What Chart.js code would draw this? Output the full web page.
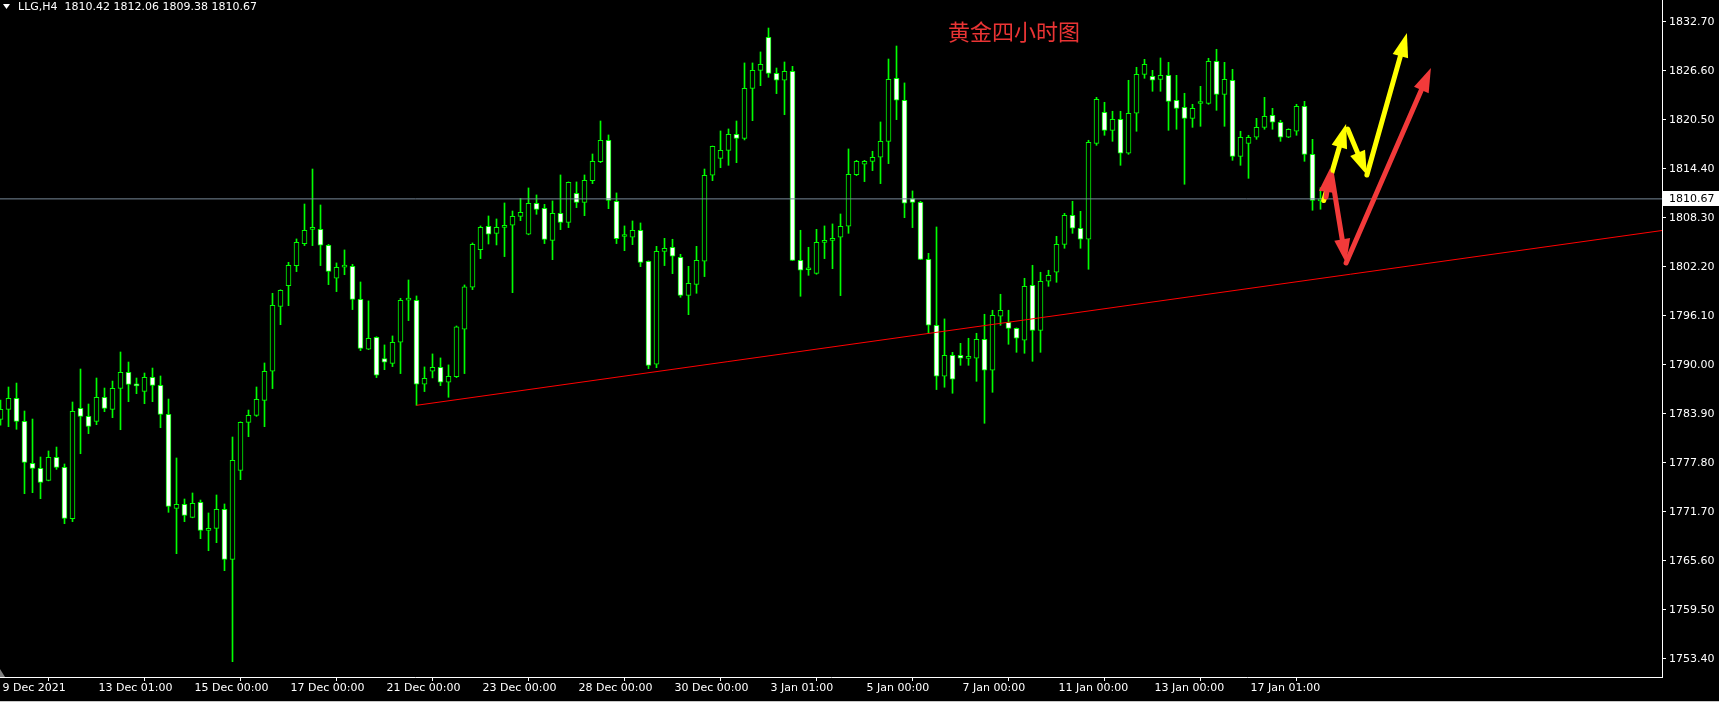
<!DOCTYPE html>
<html>
<head>
<meta charset="utf-8">
<script src="https://cdn.jsdelivr.net/npm/chart.js@4.4.0/dist/chart.umd.min.js"></script>
<style>
  html, body { margin: 0; padding: 0; background: #000; overflow: hidden; }
  canvas { display: block; }
</style>
</head>
<body>
<canvas id="c" width="1719" height="702"></canvas>
<script>
// LLG H4 candles (index 0 = first bar on the left)
const OPEN = [
  1783.21,1784.46,1785.83,1782.96,1777.73,1777.11,1775.61,1778.48,1777.23,1770.84,
  1784.58,1783.58,1782.96,1785.95,1784.46,1787.07,1789.06,1787.44,1786.70,1788.44,
  1787.44,1783.83,1772.13,1772.63,1771.01,1772.87,1769.39,1769.64,1772.00,1765.78,
  1776.86,1782.84,1783.71,1785.58,1789.20,1797.29,1799.87,1802.36,1805.10,1806.88,
  1806.88,1804.89,1800.78,1802.17,1802.27,1798.16,1791.94,1793.43,1790.77,1790.19,
  1792.81,1798.06,1798.04,1787.58,1789.20,1789.69,1787.83,1788.53,1794.43,1799.66,
  1804.35,1807.25,1806.38,1807.13,1807.38,1808.50,1806.26,1810.12,1809.50,1805.51,
  1808.87,1807.75,1811.36,1810.24,1812.94,1815.31,1817.96,1810.37,1805.98,1805.89,
  1806.76,1802.90,1790.07,1804.14,1804.64,1803.39,1798.66,1800.03,1802.90,1813.61,
  1815.72,1816.72,1818.71,1818.21,1824.44,1826.68,1830.79,1826.31,1825.44,1826.56,
  1803.02,1801.84,1801.40,1805.26,1805.51,1805.89,1807.26,1813.69,1814.98,1815.35,
  1815.85,1817.84,1825.69,1822.95,1810.70,1810.24,1803.14,1794.93,1788.58,1791.19,
  1791.19,1790.80,1790.82,1793.18,1789.32,1796.05,1795.30,1794.55,1793.06,1799.91,
  1794.30,1800.41,1801.53,1805.01,1808.62,1807.01,1805.64,1817.59,1821.45,1819.21,
  1820.58,1816.35,1821.33,1826.18,1825.94,1825.56,1826.06,1822.95,1822.07,1820.70,
  1822.55,1822.57,1827.80,1823.69,1825.44,1815.97,1817.59,1818.34,1819.58,1821.08,
  1820.21,1818.34,1819.09,1822.20,1816.22,1810.42
];
const HIGH = [
  1785.62,1787.24,1787.73,1784.25,1783.25,1778.52,1779.27,1779.76,1777.65,1785.37,
  1789.48,1785.12,1788.36,1787.11,1787.98,1791.60,1790.35,1788.36,1788.98,1789.60,
  1788.61,1785.74,1778.40,1773.29,1774.04,1773.16,1771.55,1773.79,1772.67,1781.01,
  1782.90,1784.37,1787.24,1790.23,1798.91,1799.35,1802.77,1805.68,1810.03,1814.39,
  1809.91,1805.00,1802.69,1804.31,1802.52,1800.32,1797.96,1793.50,1792.48,1793.60,
  1798.29,1800.57,1798.58,1789.74,1791.36,1790.86,1789.99,1794.84,1799.95,1805.18,
  1807.30,1808.54,1808.17,1810.16,1809.16,1810.74,1812.03,1811.16,1809.99,1810.41,
  1813.65,1812.78,1812.78,1813.65,1816.26,1820.37,1818.63,1811.41,1807.30,1807.92,
  1807.67,1802.95,1804.76,1805.76,1805.64,1803.77,1802.27,1804.76,1814.39,1817.25,
  1819.13,1819.38,1820.37,1827.60,1827.60,1828.97,1831.95,1826.97,1827.72,1827.18,
  1806.76,1804.64,1806.88,1807.30,1807.55,1808.79,1816.89,1815.47,1815.47,1816.60,
  1820.25,1828.09,1829.71,1825.11,1811.66,1810.37,1803.89,1807.17,1795.72,1791.56,
  1792.68,1793.31,1793.93,1796.30,1796.80,1798.79,1796.80,1794.60,1800.78,1802.40,
  1801.53,1801.78,1806.01,1808.87,1810.37,1809.12,1817.97,1823.32,1822.70,1821.58,
  1821.58,1825.44,1827.06,1828.05,1826.68,1828.22,1827.68,1826.06,1823.82,1822.45,
  1824.69,1828.18,1829.30,1827.68,1826.81,1819.09,1818.59,1820.70,1823.32,1821.95,
  1820.46,1819.40,1822.45,1822.82,1818.09,1812.06
];
const LOW = [
  1782.50,1782.30,1781.97,1773.95,1774.08,1773.33,1775.55,1776.98,1770.22,1770.47,
  1778.93,1781.43,1782.55,1784.17,1783.42,1781.92,1785.41,1786.41,1785.16,1785.41,
  1782.17,1771.63,1766.48,1770.47,1770.95,1768.35,1766.85,1767.85,1764.36,1753.03,
  1775.70,1781.05,1783.58,1782.30,1787.04,1795.00,1797.37,1801.61,1804.85,1804.85,
  1802.36,1799.99,1799.12,1801.23,1796.88,1791.77,1791.90,1788.41,1789.40,1789.78,
  1788.91,1795.51,1784.96,1786.67,1788.37,1787.41,1785.96,1788.41,1788.91,1799.37,
  1803.23,1805.05,1804.93,1803.48,1798.99,1807.96,1806.20,1808.75,1805.10,1803.10,
  1806.84,1807.09,1809.58,1808.58,1812.57,1815.18,1809.45,1805.10,1804.22,1804.97,
  1802.23,1789.53,1789.65,1802.36,1801.36,1798.41,1796.25,1798.91,1800.99,1812.94,
  1814.56,1814.85,1815.18,1818.01,1820.41,1824.77,1825.81,1823.78,1821.16,1802.98,
  1798.54,1801.15,1801.28,1803.23,1801.98,1798.62,1806.38,1813.57,1812.82,1814.19,
  1812.57,1815.06,1820.54,1808.33,1807.09,1803.10,1793.93,1786.92,1787.21,1786.46,
  1789.94,1789.94,1787.95,1782.72,1786.58,1794.93,1792.56,1791.56,1791.44,1790.44,
  1791.56,1799.78,1800.28,1804.52,1806.38,1804.52,1801.90,1817.34,1818.59,1817.84,
  1814.85,1816.22,1819.09,1825.69,1824.07,1824.07,1819.21,1819.34,1812.49,1819.58,
  1819.71,1822.45,1821.70,1819.71,1815.47,1814.85,1813.23,1818.09,1819.34,1819.34,
  1817.84,1818.30,1818.59,1815.35,1809.25,1809.38
];
const CLOSE = [
  1784.46,1785.83,1782.96,1777.86,1777.11,1775.36,1778.48,1777.23,1770.88,1784.21,
  1783.58,1782.34,1785.95,1784.58,1787.07,1789.06,1787.57,1787.38,1788.44,1787.44,
  1783.83,1772.38,1772.63,1771.25,1772.75,1769.39,1769.64,1772.00,1765.78,1778.10,
  1782.84,1783.71,1785.70,1789.19,1797.42,1799.28,1802.40,1805.26,1806.76,1806.92,
  1804.89,1801.65,1802.15,1802.21,1798.16,1792.06,1793.31,1788.70,1790.32,1792.81,
  1798.04,1798.10,1787.58,1788.32,1789.69,1787.83,1788.57,1794.72,1799.70,1805.01,
  1807.13,1806.26,1807.13,1807.38,1808.50,1809.00,1810.12,1809.37,1805.63,1808.87,
  1807.75,1812.73,1810.24,1812.98,1815.35,1817.96,1810.49,1805.72,1806.02,1806.76,
  1802.77,1789.94,1804.14,1804.51,1803.52,1798.66,1800.16,1803.02,1813.61,1817.22,
  1816.72,1818.71,1818.21,1824.44,1826.68,1827.43,1826.31,1825.44,1826.56,1803.02,
  1801.78,1801.88,1805.27,1805.51,1805.76,1807.26,1813.73,1815.35,1815.35,1815.85,
  1817.84,1825.56,1822.95,1810.12,1810.24,1803.14,1794.93,1788.58,1791.19,1788.20,
  1790.82,1790.84,1793.18,1789.32,1796.17,1796.80,1794.55,1793.31,1799.78,1794.30,
  1800.41,1801.15,1805.01,1808.62,1807.01,1805.64,1817.72,1823.07,1819.21,1820.58,
  1816.35,1821.33,1826.18,1827.43,1825.44,1826.06,1822.82,1821.95,1820.70,1821.95,
  1822.59,1827.80,1823.69,1825.56,1815.97,1818.34,1818.34,1819.58,1820.95,1820.21,
  1818.34,1819.34,1822.20,1816.22,1810.49,1810.67
];

// axes
const PRICE_TICKS = [1753.40,1759.50,1765.60,1771.70,1777.80,1783.90,1790.00,1796.10,1802.20,1808.30,1814.40,1820.50,1826.60,1832.70];
const TIME_TICK_POS = [0,12,24,36,48,60,72,84,96,108,120,132,144,156];
const TIME_LABELS = ['9 Dec 2021','13 Dec 01:00','15 Dec 00:00','17 Dec 00:00','21 Dec 00:00','23 Dec 00:00',
  '28 Dec 00:00','30 Dec 00:00','3 Jan 01:00','5 Jan 00:00','7 Jan 00:00','11 Jan 00:00','13 Jan 00:00','17 Jan 01:00'];
const Y_MIN = 1751.12, Y_MAX = 1835.44;
const X_MIN = -0.0625, X_MAX = 207.6875;

const BID = 1810.67;
const HEADER = 'LLG,H4  1810.42 1812.06 1809.38 1810.67';
const TITLE = '黄金四小时图';

// trend line: [bar index, price]
const TREND = [[52, 1784.96], [207.69, 1806.73]];
// hand drawn arrows: [fromIndex, fromPrice, toIndex, toPrice]
const YELLOW_ARROWS = [
  [165.4, 1810.46, 168.2, 1820.0],
  [168.4, 1819.37, 170.8, 1813.64],
  [170.8, 1813.64, 175.8, 1831.33]
];
const RED_ARROWS = [
  [165.7, 1810.9, 166.2, 1814.5],
  [166.4, 1813.64, 168.2, 1802.68],
  [168.2, 1802.68, 178.8, 1826.97]
];

const GREEN = '#00ff00';
const FONT = 'DejaVu Sans';

const bodies = OPEN.map((o, i) => ({ x: i, y: [o, CLOSE[i]] }));
const wicks = LOW.map((l, i) => ({ x: i, y: [l, HIGH[i]] }));
const bodyFill = OPEN.map((o, i) => CLOSE[i] >= o ? '#000000' : '#ffffff');

function drawArrow(ctx, x1, y1, x2, y2, color) {
  const a = Math.atan2(y2 - y1, x2 - x1);
  const len = 24, w = 8;
  const bx = x2 - len * Math.cos(a), by = y2 - len * Math.sin(a);
  ctx.strokeStyle = color; ctx.fillStyle = color;
  ctx.lineWidth = 5; ctx.lineCap = 'round';
  ctx.beginPath(); ctx.moveTo(x1, y1); ctx.lineTo(bx, by); ctx.stroke();
  ctx.beginPath();
  ctx.moveTo(x2, y2);
  ctx.lineTo(bx + w * Math.sin(a), by - w * Math.cos(a));
  ctx.lineTo(bx - w * Math.sin(a), by + w * Math.cos(a));
  ctx.closePath(); ctx.fill();
}

const decor = {
  id: 'decor',
  beforeDraw(chart) {
    const ctx = chart.ctx;
    ctx.save();
    ctx.fillStyle = '#000';
    ctx.fillRect(0, 0, chart.width, chart.height);
    ctx.restore();
  },
  afterDatasetsDraw(chart) {
    const ctx = chart.ctx, xs = chart.scales.x, ys = chart.scales.y;
    const ca = chart.chartArea;
    ctx.save();
    ctx.beginPath(); ctx.rect(ca.left, ca.top, ca.right - ca.left, ca.bottom - ca.top); ctx.clip();
    const draw = (list, color) => list.forEach(a => drawArrow(ctx,
      xs.getPixelForValue(a[0]), ys.getPixelForValue(a[1]),
      xs.getPixelForValue(a[2]), ys.getPixelForValue(a[3]), color));
    draw(YELLOW_ARROWS, '#ffff00');
    draw(RED_ARROWS, '#f23a3a');
    ctx.restore();
  },
  afterDraw(chart) {
    const ctx = chart.ctx, ys = chart.scales.y, ca = chart.chartArea;
    ctx.save();
    // header
    ctx.fillStyle = '#fff';
    ctx.beginPath(); ctx.moveTo(3, 4); ctx.lineTo(10, 4); ctx.lineTo(6.5, 9); ctx.closePath(); ctx.fill();
    ctx.font = '11px "' + FONT + '"';
    ctx.textBaseline = 'middle'; ctx.textAlign = 'left';
    ctx.fillText(HEADER, 18, 7);
    // title
    ctx.fillStyle = '#ea3434';
    ctx.font = '22px "Noto Sans CJK SC"';
    ctx.fillText(TITLE, 948, 32);
    // bid price box
    const y = Math.round(ys.getPixelForValue(BID));
    ctx.fillStyle = '#fff';
    ctx.fillRect(ca.right + 1, y - 8, chart.width - ca.right - 1, 15);
    ctx.fillStyle = '#000';
    ctx.font = '11px "' + FONT + '"';
    ctx.fillText(BID.toFixed(2), ca.right + 7, y);
    // window edge + shift marker
    ctx.fillStyle = '#c8c8c8';
    ctx.fillRect(0, 701, chart.width, 1);
    ctx.fillStyle = '#808080';
    ctx.beginPath(); ctx.moveTo(0, ca.bottom - 8); ctx.lineTo(5, ca.bottom); ctx.lineTo(0, ca.bottom); ctx.closePath(); ctx.fill();
    ctx.restore();
  }
};

new Chart(document.getElementById('c'), {
  type: 'bar',
  data: {
    datasets: [
      {
        type: 'line', data: TREND.map(p => ({ x: p[0], y: p[1] })),
        borderColor: '#ff0000', borderWidth: 1, pointRadius: 0, tension: 0
      },
      {
        type: 'line', data: [{ x: X_MIN, y: BID }, { x: X_MAX, y: BID }],
        borderColor: '#778899', borderWidth: 1, pointRadius: 0, tension: 0
      },
      {
        data: bodies, backgroundColor: bodyFill, borderColor: GREEN, borderWidth: 1,
        borderSkipped: false, barThickness: 5, minBarLength: 2, grouped: false
      },
      {
        data: wicks, backgroundColor: GREEN, borderWidth: 0,
        barThickness: 1, grouped: false
      }
    ]
  },
  options: {
    responsive: false,
    animation: false,
    devicePixelRatio: 1,
    layout: { padding: 0 },
    plugins: { legend: { display: false }, tooltip: { enabled: false } },
    scales: {
      x: {
        type: 'linear', min: X_MIN, max: X_MAX, offset: false,
        afterBuildTicks: s => { s.ticks = TIME_TICK_POS.map(v => ({ value: v })); },
        ticks: {
          autoSkip: false, maxRotation: 0, align: 'start', labelOffset: 2, padding: 1,
          color: '#fff', font: { family: FONT, size: 11 },
          callback: v => TIME_LABELS[TIME_TICK_POS.indexOf(v)]
        },
        grid: { drawOnChartArea: false, drawTicks: true, tickLength: 4, color: '#fff' },
        border: { display: true, color: '#fff', width: 1 },
        afterFit: s => { s.height = 25; s.paddingLeft = 0; s.paddingRight = 0; }
      },
      y: {
        position: 'right', min: Y_MIN, max: Y_MAX,
        afterBuildTicks: s => { s.ticks = PRICE_TICKS.map(v => ({ value: v })); },
        ticks: {
          color: '#fff', padding: 3, font: { family: FONT, size: 11 },
          callback: v => v.toFixed(2)
        },
        grid: { drawOnChartArea: false, drawTicks: true, tickLength: 4, color: '#fff' },
        border: { display: true, color: '#fff', width: 1 },
        afterFit: s => { s.width = 57; s.paddingTop = 0; s.paddingBottom = 0; }
      }
    }
  },
  plugins: [decor]
});
</script>
</body>
</html>
